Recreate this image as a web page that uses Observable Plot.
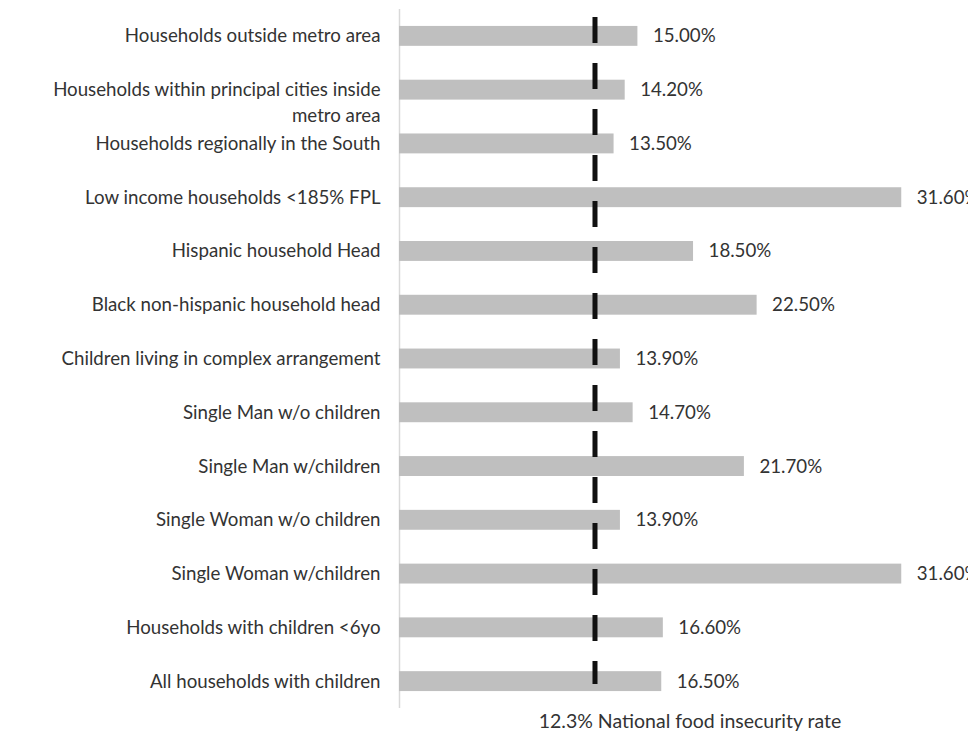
<!DOCTYPE html>
<html>
<head>
<meta charset="utf-8">
<script src="https://cdn.jsdelivr.net/npm/d3@7"></script>
<script src="https://cdn.jsdelivr.net/npm/@observablehq/plot@0.6"></script>
<style>
  html, body { margin: 0; padding: 0; background: #fff; }
  #chart svg { display: block; }
</style>
</head>
<body>
<div id="chart"></div>
<script>
const categories = [
  "Households outside metro area",
  "Households within principal cities inside\nmetro area",
  "Households regionally in the South",
  "Low income households <185% FPL",
  "Hispanic household Head",
  "Black non-hispanic household head",
  "Children living in complex arrangement",
  "Single Man w/o children",
  "Single Man w/children",
  "Single Woman w/o children",
  "Single Woman w/children",
  "Households with children <6yo",
  "All households with children"
];
const values = [15.0, 14.2, 13.5, 31.6, 18.5, 22.5, 13.9, 14.7, 21.7, 13.9, 31.6, 16.6, 16.5];
const nationalRate = [12.3];
const captionText = ["12.3% National food insecurity rate"];

const data = categories.map((c, i) => ({category: c, value: values[i]}));
const font = "Lato, 'Open Sans', sans-serif";
const fs = 18.7;
const lh = 1.39;

const chart = Plot.plot({
  width: 968,
  height: 743,
  marginLeft: 399,
  marginRight: 0,
  marginTop: 9,
  marginBottom: 35,
  style: {fontFamily: font, fontSize: fs + "px", color: "#333", background: "#fff", overflow: "visible"},
  x: {domain: [0, 35.8], axis: null},
  y: {domain: categories, axis: null, paddingInner: 0.63, paddingOuter: 0.315, round: false},
  marks: [
    Plot.ruleX([0], {stroke: "#d9d9d9", strokeWidth: 1.5}),
    Plot.barX(data, {x: "value", y: "category", fill: "#bfbfbf"}),
    Plot.ruleX(nationalRate, {x: d => d, stroke: "#111", strokeWidth: 5, strokeDasharray: "26,20", insetTop: 8, insetBottom: 24}),
    Plot.text(data, {x: 0, y: "category", text: "category", textAnchor: "end", lineAnchor: "top", dx: -19, dy: (0.32 - 0.71 * lh) * fs, lineHeight: lh, fill: "#333", fontSize: fs}),
    Plot.text(data, {x: "value", y: "category", text: d => d.value.toFixed(2) + "%", textAnchor: "start", dx: 15, fill: "#333", fontSize: fs}),
    Plot.text(captionText, {text: d => d, frameAnchor: "bottom", dy: 19, dx: 6, fill: "#333", fontSize: 19.5})
  ]
});
document.getElementById("chart").appendChild(chart);
</script>
</body>
</html>
